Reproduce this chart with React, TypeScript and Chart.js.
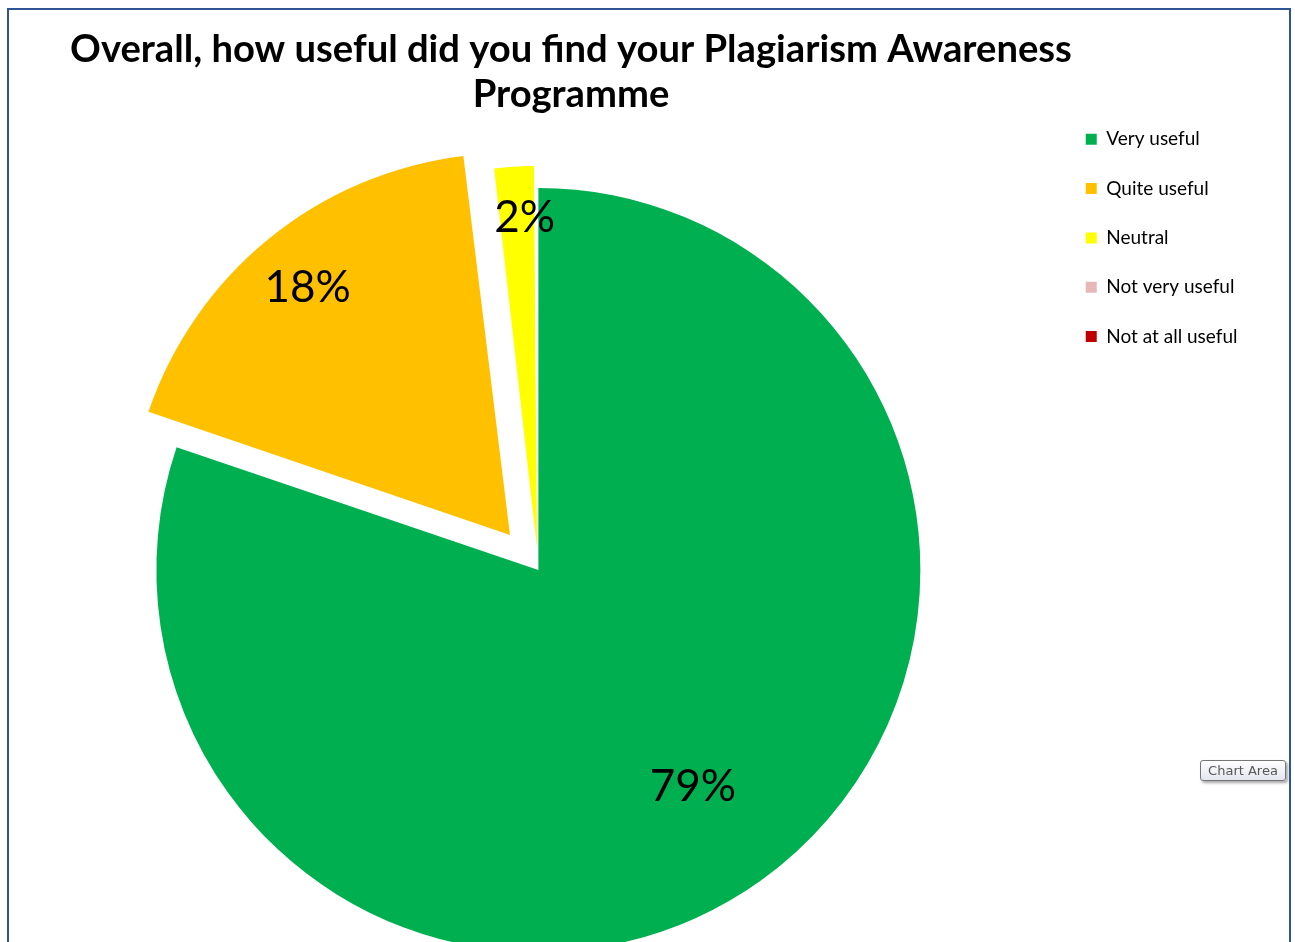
import React, { useEffect, useRef } from 'react';
import { Chart, registerables } from 'chart.js';

Chart.register(...registerables);

const categories = ['Very useful', 'Quite useful', 'Neutral', 'Not very useful', 'Not at all useful'];
const shares = [0.794, 0.177, 0.019, 0, 0];
const sliceColors = ['#00B050', '#FFC000', '#FFFF00', '#E6B9B8', '#C00000'];
const titleLines = ['Overall, how useful did you find your Plagiarism Awareness', 'Programme'];

const FONT = 'Lato, "Noto Sans", sans-serif';

// Chart.js draws an arc's offset as offset/4 and also widens small exploded slices;
// keep the drawn radius equal to the pie radius.
const keepRadius = {
  id: 'keepRadius',
  beforeDatasetDraw(_chart: any, args: any) {
    args.meta.data.forEach((el: any) => {
      const o = ((el.options && el.options.offset) || 0) / 4;
      const fix = 1 - Math.sin(Math.min(Math.PI, el.circumference || 0));
      el.$baseR = el.outerRadius;
      el.outerRadius = el.outerRadius - o * fix;
    });
  },
  afterDatasetDraw(_chart: any, args: any) {
    args.meta.data.forEach((el: any) => {
      if (el.$baseR !== undefined) el.outerRadius = el.$baseR;
    });
  },
};

const pieLabels = {
  id: 'pieLabels',
  afterDatasetsDraw(chart: any, _args: any, opts: any) {
    const meta = chart.getDatasetMeta(0);
    const values = chart.data.datasets[0].data as number[];
    const ctx = chart.ctx;
    ctx.save();
    ctx.font = `${opts.size}px ${FONT}`;
    ctx.fillStyle = '#000';
    ctx.textAlign = 'center';
    ctx.textBaseline = 'alphabetic';
    meta.data.forEach((el: any, i: number) => {
      const v = values[i];
      if (!v) return;
      const mid = (el.startAngle + el.endAngle) / 2;
      const t = ((el.options && el.options.offset) || 0) / 4;
      const cx = el.x + Math.cos(mid) * t;
      const cy = el.y + Math.sin(mid) * t;
      const a = mid + (opts.shift[i] * Math.PI) / 180;
      const d = opts.radial[i] * el.outerRadius;
      const x = cx + Math.cos(a) * d;
      const y = cy + Math.sin(a) * d;
      ctx.fillText(Math.round(v * 100) + '%', x, y + 0.36 * opts.size);
    });
    ctx.restore();
  },
};

const excelTitle = {
  id: 'excelTitle',
  afterDraw(chart: any, _args: any, opts: any) {
    const ctx = chart.ctx;
    ctx.save();
    ctx.font = `bold ${opts.size}px ${FONT}`;
    ctx.fillStyle = '#000';
    ctx.textAlign = 'center';
    ctx.textBaseline = 'alphabetic';
    (opts.lines as string[]).forEach((line, i) => {
      ctx.fillText(line, opts.x, opts.y + i * opts.gap);
    });
    ctx.restore();
  },
};

export default function App() {
  const canvasRef = useRef<HTMLCanvasElement | null>(null);

  useEffect(() => {
    if (!canvasRef.current) return;
    const chart = new Chart(canvasRef.current, {
      type: 'pie',
      data: {
        labels: categories,
        datasets: [
          {
            data: shares,
            backgroundColor: sliceColors,
            borderWidth: 0,
            offset: [0, 180, 88, 0, 0],
            hoverOffset: 0,
            radius: 382,
            clip: false,
          } as any,
        ],
      },
      options: {
        responsive: false,
        animation: false,
        events: [],
        rotation: 0,
        layout: { padding: { top: 89.5, left: 12.3, right: 41.5, bottom: 69.5 } },
        plugins: {
          tooltip: { enabled: false },
          title: { display: false },
          legend: {
            display: true,
            position: 'right',
            align: 'start',
            labels: {
              boxWidth: 11,
              boxHeight: 11,
              padding: 30.3,
              color: '#000',
              font: { family: FONT, size: 19 },
            },
          },
          pieLabels: {
            size: 44,
            radial: [0.694, 0.84, 0.87, 0.7, 0.7],
            shift: [0, 0, 1.3, 0, 0],
          },
          excelTitle: { lines: titleLines, size: 38.2, x: 562, y: 52, gap: 45 },
        } as any,
      },
      plugins: [keepRadius, pieLabels, excelTitle],
    });
    return () => chart.destroy();
  }, []);

  return (
    <div
      style={{
        position: 'fixed',
        left: 7,
        top: 8,
        boxSizing: 'border-box',
        width: 1284,
        height: 934,
        borderTop: '2px solid #2F5496',
        borderLeft: '2px solid #2F5496',
        borderRight: '2px solid #2F5496',
        overflow: 'hidden',
        background: '#fff',
      }}
    >
      <canvas
        ref={canvasRef}
        width={1280}
        height={1100}
        style={{ display: 'block', width: 1280, height: 1100 }}
      />
      <div
        style={{
          position: 'absolute',
          left: 1191,
          top: 750,
          width: 86,
          height: 21,
          boxSizing: 'border-box',
          border: '1px solid #767676',
          borderRadius: 3,
          background: 'linear-gradient(#ffffff, #e4e5f0)',
          boxShadow: '2px 2px 3px rgba(0,0,0,0.35)',
          font: '13px "DejaVu Sans", "Noto Sans", sans-serif',
          color: '#575757',
          lineHeight: '19px',
          textAlign: 'center',
          whiteSpace: 'nowrap',
        }}
      >
        Chart Area
      </div>
    </div>
  );
}
